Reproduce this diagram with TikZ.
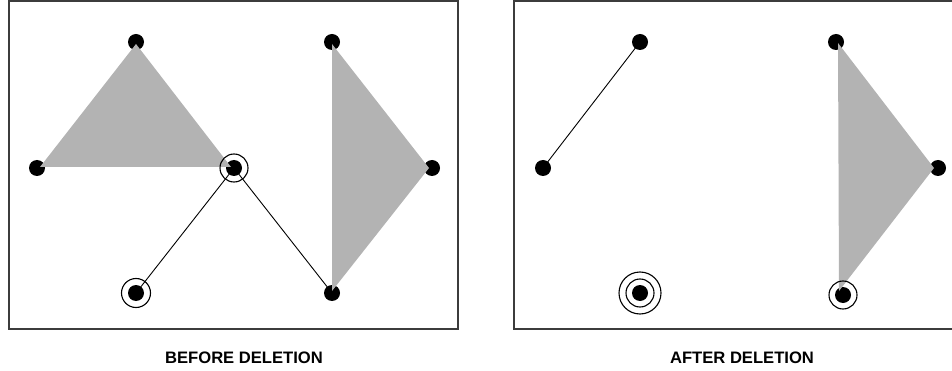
\documentclass[tikz,border=0pt]{standalone}
\usepackage{fontspec}
\setmainfont{Liberation Sans}
\usetikzlibrary{positioning,calc}
\definecolor{frameGray}{RGB}{60,60,60}
\definecolor{faceGray}{RGB}{179,179,179}
\tikzset{
  panel/.style={draw=frameGray, line width=1.4pt},
  vertex/.style={circle, fill=black, inner sep=0pt, minimum size=16pt},
  face/.style={fill=faceGray, draw=none},
  edge/.style={draw=black, line width=0.9pt},
  ring/.style={draw=black, line width=1.1pt},
  caption/.style={font=\bfseries\fontsize{16.6}{20}\selectfont, inner sep=0pt}
}
\begin{document}
\begin{tikzpicture}[x=1pt, y=-1pt]
\useasboundingbox (0,0) rectangle (952,371);
% panels
\draw[panel] (9,1) rectangle (458,329);
\draw[panel] (514,1) rectangle (960,329);
% before deletion
\node[vertex] (a) at (136,42) {};
\node[vertex] (b) at (37,168) {};
\node[vertex] (c) at (234,168) {};
\node[vertex] (d) at (136,293) {};
\node[vertex] (e) at (332,42) {};
\node[vertex] (f) at (432,168) {};
\node[vertex] (g) at (332,293) {};
\fill[face] ($(a.center)+(0,2)$) -- ($(b.center)+(3,-1)$) -- ($(c.center)+(-3,-1)$) -- cycle;
\fill[face] ($(e.center)+(0,2)$) -- ($(f.center)+(-3,0)$) -- ($(g.center)+(0,-2)$) -- cycle;
\draw[edge] (c.center) -- (d.center);
\draw[edge] (c.center) -- (g.center);
\draw[ring] (c) circle (14);
\draw[ring] (d) circle (14.5);
% after deletion
\node[vertex] (p) at (640,42) {};
\node[vertex] (q) at (543,168) {};
\node[vertex] (r) at (640,293) {};
\node[vertex] (s) at (836,42) {};
\node[vertex] (t) at (938,168) {};
\node[vertex] (u) at (843,295) {};
\fill[face] ($(s.center)+(2,1)$) -- ($(t.center)+(-4,0)$) -- ($(u.center)+(-4,-4)$) -- cycle;
\draw[edge] (q.center) -- (p.center);
\draw[ring] (r) circle (14);
\draw[ring] (r) circle (21);
\draw[ring] (u) circle (14);
% captions
\node[caption] (before) at (244,358) {BEFORE DELETION};
\node[caption] (after) at (742,358) {AFTER DELETION};
\end{tikzpicture}
\end{document}
